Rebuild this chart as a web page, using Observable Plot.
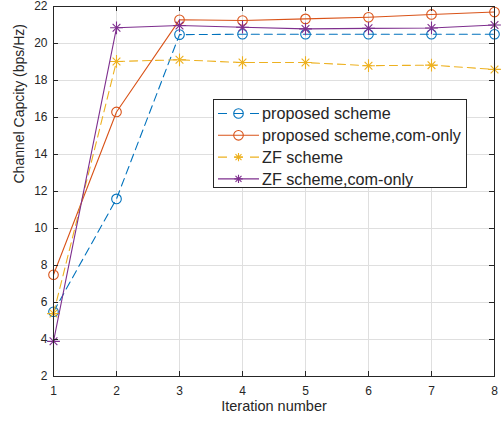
<!DOCTYPE html>
<html><head><meta charset="utf-8">
<script src="https://cdn.jsdelivr.net/npm/d3@7"></script>
<script src="https://cdn.jsdelivr.net/npm/@observablehq/plot@0.6"></script>
<style>
body{margin:0;background:#fff;}
#wrap{position:relative;width:503px;height:423px;font-family:"Liberation Sans",Arial,sans-serif;}
#legend{position:absolute;left:213px;top:99px;width:252px;height:87px;background:#fff;border:1px solid #262626;}
</style></head><body><div id="wrap"><div id="chart"></div><div id="legend"></div></div>
<script>
const iterations = [1, 2, 3, 4, 5, 6, 7, 8];
const proposed    = [5.5, 11.6, 20.48, 20.5, 20.5, 20.5, 20.5, 20.5];
const proposedCom = [7.5, 16.3, 21.28, 21.24, 21.33, 21.42, 21.57, 21.7];
const zf          = [5.4, 19.03, 19.12, 18.97, 18.97, 18.8, 18.83, 18.6];
const zfCom       = [3.9, 20.85, 20.97, 20.88, 20.79, 20.82, 20.84, 21.0];
const seriesNames = ["proposed scheme", "proposed scheme,com-only", "ZF scheme", "ZF scheme,com-only"];
const seriesColors = ["#0072BD", "#D95319", "#EDB120", "#7E2F8E"];
const seriesDash = ["8,5", null, "8,5", null];
const seriesMarker = ["circle", "circle", "asterisk", "asterisk"];
const xTicks = [1, 2, 3, 4, 5, 6, 7, 8];
const yTicks = [2, 4, 6, 8, 10, 12, 14, 16, 18, 20, 22];
const xLabel = "Iteration number";
const yLabel = "Channel Capcity (bps/Hz)";

const allValues = [proposed, proposedCom, zf, zfCom];
const rows = [];
allValues.forEach((vals, s) => vals.forEach((v, i) => rows.push({series: seriesNames[s], s, x: iterations[i], y: v})));

const W = 503, H = 423, mL = 53, mR = 9, mT = 6, mB = 47;
const pw = W - mL - mR, ph = H - mT - mB;
const axisColor = "#262626";
const tick = 5;

const marks = [
  Plot.gridX(xTicks, {stroke: "#dfdfdf", strokeOpacity: 1}),
  Plot.gridY(yTicks, {stroke: "#dfdfdf", strokeOpacity: 1})
];
seriesNames.forEach((name, s) => {
  const d = rows.filter(r => r.s === s);
  marks.push(Plot.line(d, {x: "x", y: "y", stroke: seriesColors[s], strokeWidth: 1.1, strokeDasharray: seriesDash[s]}));
  if (seriesMarker[s] === "circle") {
    marks.push(Plot.dot(d, {x: "x", y: "y", r: 4.8, stroke: seriesColors[s], fill: "none", strokeWidth: 1.1}));
  } else {
    marks.push(Plot.dot(d, {x: "x", y: "y", r: 4.2, symbol: "plus", stroke: seriesColors[s], strokeWidth: 1.1}));
    marks.push(Plot.dot(d, {x: "x", y: "y", r: 3.6, symbol: "times", stroke: seriesColors[s], strokeWidth: 1.1}));
  }
});
marks.push(
  Plot.frame({stroke: axisColor, strokeWidth: 1}),
  Plot.tickX(xTicks, {x: d => d, insetTop: ph - tick, stroke: axisColor}),
  Plot.tickX(xTicks, {x: d => d, insetBottom: ph - tick, stroke: axisColor}),
  Plot.tickY(yTicks, {y: d => d, insetRight: pw - tick, stroke: axisColor}),
  Plot.tickY(yTicks, {y: d => d, insetLeft: pw - tick, stroke: axisColor}),
  Plot.axisX(xTicks, {tickSize: 0, tickPadding: 10, label: null, fontSize: 12, fill: axisColor}),
  Plot.axisY(yTicks, {tickSize: 0, tickPadding: 6, label: null, fontSize: 12, fill: axisColor}),
  Plot.text([xLabel], {text: d => d, frameAnchor: "bottom", dy: 34, fontSize: 14.5, fill: axisColor}),
  Plot.text([yLabel], {text: d => d, frameAnchor: "left", rotate: -90, dx: -34, dy: -8, fontSize: 14, fill: axisColor})
);

const chart = Plot.plot({
  width: W, height: H, marginLeft: mL, marginRight: mR, marginTop: mT, marginBottom: mB,
  style: {fontFamily: '"Liberation Sans", Arial, sans-serif', background: "white", color: axisColor},
  x: {domain: [1, 8], axis: null},
  y: {domain: [2, 22], axis: null},
  marks
});
document.getElementById("chart").appendChild(chart);

// legend
const lg = d3.select("#legend").append("svg").attr("width", 252).attr("height", 87)
  .style("font-family", '"Liberation Sans", Arial, sans-serif');
const asterisk = {draw(ctx){ctx.moveTo(-4.2,0);ctx.lineTo(4.2,0);ctx.moveTo(0,-4.2);ctx.lineTo(0,4.2);ctx.moveTo(-3,-3);ctx.lineTo(3,3);ctx.moveTo(-3,3);ctx.lineTo(3,-3);}};
seriesNames.forEach((name, s) => {
  const cy = 13.5 + s * 21.8;
  const g = lg.append("g").attr("transform", `translate(0,${cy})`);
  g.append("line").attr("x1", 4).attr("x2", 45).attr("y1", 0).attr("y2", 0)
    .attr("stroke", seriesColors[s]).attr("stroke-width", 1.1)
    .attr("stroke-dasharray", seriesDash[s] ? "9,7" : null);
  if (seriesMarker[s] === "circle") {
    g.append("circle").attr("cx", 24.5).attr("r", 4.8).attr("fill", "none").attr("stroke", seriesColors[s]).attr("stroke-width", 1.1);
  } else {
    g.append("path").attr("d", d3.symbol().type(asterisk)())
      .attr("transform", "translate(24.5,0)").attr("stroke", seriesColors[s]).attr("stroke-width", 1.1).attr("fill", "none");
  }
  g.append("text").attr("x", 48).attr("y", 0).attr("dy", "0.35em").attr("font-size", 16.2).attr("fill", axisColor).text(name);
});
</script></body></html>
